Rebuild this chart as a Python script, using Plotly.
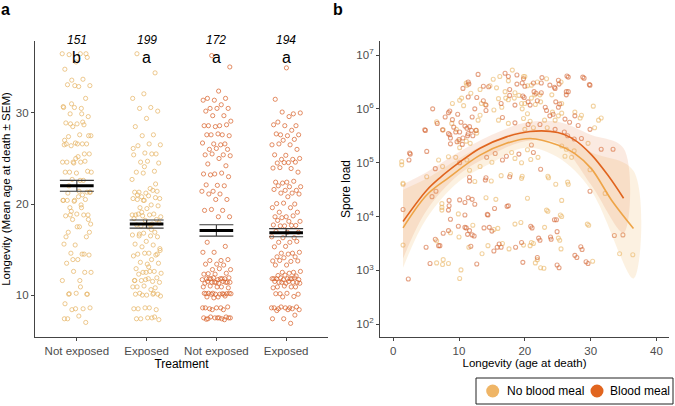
import plotly.graph_objects as go
import numpy as np

FONT = "Liberation Sans, Arial, sans-serif"
LIGHT = "#EFB566"
DARK = "#E1651F"
PT_LIGHT = "rgba(230,180,100,0.8)"
PT_DARK = "rgba(216,98,42,0.8)"

# ---------------- Panel a data ----------------
treat_labels = ["Not exposed", "Exposed", "Not exposed", "Exposed"]
group_n = ["151", "199", "172", "194"]
group_letters = ["b", "a", "a", "a"]
group_mean = [22.0, 17.8, 17.1, 16.85]
group_sem = [0.6, 0.45, 0.62, 0.45]

g1_longevity = [36.5, 36.5, 36.4, 36.1, 35.6, 34.8, 33.7, 33.6, 33.0, 32.9, 33.1, 31.6, 30.6, 30.7, 30.5,
                29.9, 29.6, 28.8, 28.9, 28.7, 28.5, 27.5, 27.6, 27.4, 26.6, 26.7, 26.5, 26.6, 26.4, 25.5,
                25.2, 24.6, 24.7, 24.5, 24.6, 24.6, 23.5, 23.6, 23.4, 23.5, 22.6, 22.7, 21.3, 21.4, 21.2,
                36.5, 33.0, 30.6, 29.9, 28.8, 27.5, 26.6, 26.6, 25.5, 24.6, 23.5, 22.6, 22.0, 21.3, 25.0,
                27.0, 29.0, 31.0, 21.3, 20.8, 20.4, 20.5, 20.3, 20.4, 19.9, 19.6, 18.8, 18.9, 18.7, 18.8,
                18.3, 17.8, 17.5, 16.9, 16.4, 15.5, 15.6, 14.5, 14.6, 14.4, 13.9, 13.5, 12.5, 12.6, 11.6,
                10.9, 10.15, 10.1, 10.2, 9.05, 8.5, 8.4, 8.6, 7.7, 7.4, 7.0, 20.4, 20.4, 19.6, 18.8, 18.3,
                17.5, 16.4, 14.5, 13.9, 12.5, 11.6, 10.1, 10.1, 8.5, 7.4, 21.0, 19.2, 16.9]
g2_longevity = [36.5, 34.4, 32.1, 31.6, 30.6, 30.5, 30.2, 29.4, 28.5, 27.6, 27.5, 26.5, 26.6, 26.4, 25.5,
                25.6, 25.4, 25.5, 24.6, 24.5, 24.7, 23.5, 23.6, 23.4, 22.7, 21.7, 21.3, 21.4, 21.2, 21.3,
                21.5, 20.8, 20.6, 20.9, 20.5, 20.7, 20.4, 20.6, 19.9, 19.6, 19.8, 19.5, 18.8, 18.9, 18.7,
                18.6, 18.8, 18.9, 18.3, 18.2, 18.4, 17.8, 17.6, 17.9, 17.5, 17.7, 16.9, 16.8, 16.6, 16.5,
                16.7, 16.4, 15.9, 15.6, 15.5, 15.3, 14.9, 14.6, 14.5, 14.4, 14.6, 14.3, 13.9, 13.6, 13.5,
                13.4, 12.9, 12.6, 12.5, 12.4, 12.6, 12.3, 11.9, 11.7, 11.6, 11.5, 11.6, 11.4, 11.8, 10.9,
                10.8, 11.0, 10.9, 10.6, 10.2, 10.1, 10.0, 10.1, 10.2, 10.0, 9.9, 8.6, 8.5, 8.4, 8.6,
                8.5, 7.5, 7.4, 7.3, 7.5, 7.4, 7.6, 20.4, 18.8, 17.7, 16.5, 14.5, 12.5, 11.6, 10.1,
                19.1, 15.1, 13.1, 21.0, 22.2, 24.1, 26.1, 17.2]
g3_longevity = [36.3, 35.05, 32.4, 31.6, 31.6, 31.4, 31.4, 30.9, 30.5, 30.5, 30.5, 30.2, 29.7, 29.7, 29.1,
                28.6, 28.6, 28.7, 28.5, 28.6, 27.6, 27.6, 27.5, 27.7, 27.6, 26.6, 26.6, 26.7, 26.5, 26.0,
                26.0, 26.1, 25.4, 25.4, 25.5, 25.3, 25.0, 24.4, 24.2, 23.3, 23.3, 23.4, 23.2, 23.0, 22.05,
                22.1, 22.0, 21.4, 21.4, 21.1, 21.1, 20.5, 20.5, 19.3, 19.3, 19.4, 18.6, 18.6, 15.8, 15.35,
                14.7, 14.7, 13.8, 13.8, 13.9, 13.4, 13.4, 13.3, 12.8, 12.8, 12.9, 12.35, 12.4, 12.3, 12.3,
                11.8, 11.8, 11.9, 11.7, 11.8, 11.8, 11.9, 11.7, 11.8, 11.8, 11.4, 11.4, 11.3, 11.5, 11.4,
                11.4, 11.3, 11.5, 11.4, 11.4, 10.9, 10.9, 11.0, 10.8, 10.9, 10.15, 10.1, 10.2, 10.15, 10.1,
                10.2, 10.15, 10.1, 10.2, 10.15, 10.1, 10.2, 9.8, 9.8, 9.9, 9.7, 8.6, 8.6, 8.5, 8.7,
                8.6, 8.6, 8.4, 8.4, 7.5, 7.5, 7.4, 7.6, 7.5, 7.5, 7.4, 7.6, 7.5, 7.5, 7.35, 7.3]
g4_longevity = [34.95, 31.5, 29.9, 30.1, 30.0, 29.6, 29.0, 28.6, 28.6, 28.7, 28.1, 27.6, 27.6, 27.5, 27.7,
                27.1, 27.0, 26.5, 26.5, 26.6, 26.0, 25.35, 25.4, 24.9, 24.9, 25.0, 24.55, 24.5, 24.6, 24.55,
                23.95, 23.9, 24.0, 23.5, 22.4, 22.4, 22.5, 22.3, 21.9, 21.9, 22.0, 21.5, 21.5, 21.6, 21.2,
                21.2, 21.1, 20.8, 20.05, 20.0, 20.1, 19.6, 19.6, 19.1, 19.1, 18.6, 18.6, 18.7, 18.5, 18.1,
                18.1, 18.2, 17.65, 17.6, 17.7, 17.65, 17.6, 16.9, 16.9, 17.0, 16.3, 16.3, 16.4, 15.8, 15.8,
                15.9, 15.35, 15.3, 14.6, 14.6, 14.7, 14.5, 14.2, 14.2, 14.1, 13.75, 13.7, 13.8, 13.75, 13.3,
                13.3, 12.5, 12.5, 12.6, 12.4, 12.15, 12.1, 12.2, 11.8, 11.8, 11.9, 11.7, 11.8, 11.8, 11.9,
                11.7, 11.8, 11.8, 11.4, 11.4, 11.3, 11.5, 11.4, 11.4, 11.3, 11.5, 10.9, 10.9, 11.0, 10.8,
                10.9, 10.15, 10.1, 10.2, 10.15, 9.85, 9.8, 8.6, 8.6, 8.5, 8.7, 8.6, 8.6, 8.5, 8.7,
                8.4, 8.4, 8.3, 7.8, 7.4, 7.4, 6.9]

groups = [g1_longevity, g2_longevity, g3_longevity, g4_longevity]
group_pt_colors = [PT_LIGHT, PT_LIGHT, PT_DARK, PT_DARK]

# ---------------- Panel b data: (age at death, log10 spore load) ----------------
nb_points = [
    (16.2, 6.6), (18.1, 6.72), (19.8, 6.6), (11.2, 6.44), (13.2, 6.36), (15.7, 6.39), (17.5, 6.52), (20.4, 6.43),
    (17.0, 6.32), (18.5, 6.3), (19.1, 6.25), (10.1, 6.16), (11.8, 6.29), (13.4, 6.1), (16.0, 6.19), (17.5, 6.17),
    (19.5, 6.1), (8.9, 5.73), (9.6, 5.62), (12.7, 5.55), (11.1, 5.4), (11.7, 5.36), (10.1, 5.28), (12.9, 5.79),
    (13.2, 5.88), (15.3, 5.98), (16.0, 5.79), (17.5, 5.73), (19.8, 5.82), (20.4, 5.91), (1.3, 5.02), (7.6, 5.61),
    (8.4, 5.11), (6.9, 5.05), (7.5, 4.93), (9.5, 5.1), (11.2, 5.05), (11.6, 4.86), (13.2, 4.93), (15.0, 5.01),
    (18.0, 5.19), (18.5, 5.08), (19.5, 5.0), (16.4, 4.76), (17.8, 4.78), (19.6, 4.75),
    (20.0, 6.6), (21.0, 6.44), (21.9, 6.5), (23.3, 6.56), (25.5, 6.5), (21.5, 6.26), (22.4, 6.13), (24.1, 6.26),
    (25.6, 6.1), (20.0, 6.1), (25.1, 5.87), (25.6, 5.92), (28.4, 5.83), (30.4, 6.05), (31.2, 5.79), (23.0, 5.79),
    (24.6, 5.79), (20.8, 5.77), (20.0, 5.62), (21.3, 5.65), (23.4, 5.65), (30.6, 5.65), (29.6, 5.36), (20.4, 5.24),
    (22.0, 5.1), (20.9, 5.06), (25.6, 5.31), (26.3, 5.25), (27.5, 5.22), (27.1, 5.1), (26.1, 5.12), (23.5, 4.75),
    (29.9, 4.87), (15.2, 6.55), (11.1, 6.48), (14.7, 6.43), (10.4, 6.2), (31.6, 5.83), (6.6, 5.76), (1.3, 4.96),
    (1.5, 4.6), (17.1, 6.2), (18.4, 6.2), (21.0, 6.2), (22.3, 6.26), (14.0, 6.08), (16.5, 6.03), (19.6, 6.0),
    (21.6, 6.08), (24.2, 5.94), (27.6, 5.94), (28.6, 5.88), (10.7, 6.06), (10.0, 5.4), (12.6, 5.6), (9.0, 6.1),
    (1.5, 4.62), (5.1, 4.74), (7.4, 4.24), (7.4, 4.12), (12.4, 4.65), (14.9, 4.66), (14.1, 4.35), (15.6, 4.32),
    (19.5, 4.71), (20.4, 4.34), (9.9, 4.05), (23.6, 4.72), (24.7, 4.6), (26.5, 4.64), (26.6, 4.6), (25.6, 4.3),
    (32.2, 4.43), (23.3, 4.12), (25.4, 4.03),
    (1.5, 3.47), (6.6, 3.14), (6.6, 3.55), (7.4, 4.17), (7.6, 3.2), (7.5, 3.11), (8.4, 3.13), (8.7, 3.7),
    (10.0, 3.62), (10.3, 3.01), (10.1, 2.85), (11.5, 3.43), (12.1, 3.84), (13.5, 3.31), (15.3, 3.76), (16.6, 3.5),
    (17.6, 3.4), (18.5, 3.86), (19.8, 3.47), (21.3, 3.5), (21.9, 3.2), (22.4, 3.05), (22.9, 3.04), (23.0, 3.8),
    (23.5, 4.1), (25.3, 3.56), (25.5, 3.4), (25.6, 4.0), (29.7, 3.84), (30.3, 3.17), (34.4, 3.31), (36.4, 3.29),
    (14.4, 3.46), (15.9, 3.78), (20.8, 3.46), (19.4, 3.89), (25.1, 3.6), (21.0, 3.52), (21.6, 3.14), (29.5, 3.86),
]
b_points = [
    (12.9, 6.64), (17.0, 6.66), (17.5, 6.6), (18.8, 6.63), (10.6, 6.38), (11.5, 6.46), (14.5, 6.41), (17.7, 6.36),
    (18.8, 6.46), (19.6, 6.48), (19.9, 6.21), (11.4, 6.22), (12.7, 6.21), (13.7, 6.15), (14.1, 6.07), (16.4, 6.1),
    (18.5, 6.07), (20.5, 6.13), (8.4, 5.93), (6.7, 5.73), (7.5, 5.61), (8.4, 5.54), (8.6, 5.52), (10.1, 5.57),
    (10.9, 5.68), (11.2, 5.64), (11.6, 5.67), (11.9, 5.6), (11.4, 5.54), (12.1, 5.5), (10.6, 5.46), (10.0, 5.43),
    (10.5, 5.34), (9.7, 5.39), (14.1, 5.97), (16.6, 5.84), (18.5, 5.74), (4.8, 5.61), (2.5, 5.18), (5.1, 5.21),
    (2.4, 5.05), (6.4, 4.89), (10.1, 5.0), (14.2, 5.1), (15.5, 5.17), (16.6, 5.05), (17.2, 5.12), (19.1, 5.16),
    (11.6, 4.73), (14.1, 4.72),
    (21.3, 6.48), (22.5, 6.48), (23.8, 6.44), (24.6, 6.38), (25.2, 6.46), (26.6, 6.59), (29.0, 6.57), (29.9, 6.44),
    (20.0, 6.42), (21.4, 6.32), (22.5, 6.3), (21.9, 6.15), (24.7, 6.13), (26.3, 6.32), (26.3, 6.26), (25.3, 6.09),
    (20.8, 6.07), (23.3, 5.97), (24.3, 5.9), (23.8, 5.87), (26.1, 5.81), (26.8, 5.75), (27.6, 5.87), (28.1, 5.69),
    (20.5, 5.71), (22.3, 5.71), (24.6, 5.62), (26.0, 5.57), (26.5, 5.5), (27.5, 5.44), (28.6, 5.45), (29.9, 5.62),
    (31.6, 5.25), (21.0, 5.33), (21.3, 5.19), (22.4, 4.88),
    (19.8, 6.56), (22.6, 6.58), (25.1, 6.53), (26.4, 6.61), (28.8, 6.59), (29.8, 6.45), (11.4, 6.5), (13.7, 6.42),
    (17.7, 6.25), (19.7, 6.24), (21.7, 6.29), (24.5, 6.4), (26.6, 6.32), (8.6, 5.96), (12.4, 6.0), (23.1, 6.03),
    (25.1, 6.03), (4.9, 5.6), (2.6, 5.16), (8.7, 5.35), (9.2, 5.66), (9.5, 5.57), (11.3, 5.5), (12.6, 5.6),
    (8.7, 5.46), (9.0, 5.8), (10.3, 5.75), (12.0, 5.85), (9.8, 5.9), (33.4, 5.25), (6.0, 6.0), (7.9, 5.85),
    (6.5, 4.47), (5.9, 4.37), (8.5, 4.3), (8.5, 4.2), (8.4, 4.12), (10.1, 4.31), (10.9, 4.26), (11.4, 4.35),
    (12.0, 4.32), (12.4, 4.23), (11.6, 4.66), (14.0, 4.68), (15.4, 4.15), (14.3, 4.04), (17.3, 4.19), (17.7, 4.74),
    (10.9, 4.03), (29.9, 4.47), (24.5, 3.94), (20.9, 3.82),
    (1.5, 4.13), (2.3, 2.84), (5.0, 3.43), (5.6, 3.13), (6.4, 3.58), (6.9, 3.46), (7.6, 3.69), (8.4, 3.74),
    (8.7, 3.95), (9.9, 3.82), (11.1, 3.79), (11.3, 3.67), (11.8, 3.45), (12.3, 3.64), (12.7, 3.12), (13.8, 3.79),
    (14.4, 4.03), (15.0, 3.73), (15.3, 3.36), (15.8, 3.43), (16.1, 3.49), (17.5, 4.2), (18.6, 3.43), (19.7, 3.15),
    (21.1, 3.79), (22.3, 3.56), (24.0, 3.58), (24.8, 3.94), (24.9, 3.72), (25.2, 3.05), (27.9, 3.24), (28.7, 3.39),
    (29.6, 3.13), (33.6, 3.65), (34.9, 3.66), (10.9, 3.8), (11.6, 3.74), (12.0, 3.66), (7.1, 3.46), (14.6, 3.8),
    (16.4, 3.43), (19.5, 3.52), (23.9, 3.62), (22.1, 3.6), (28.5, 3.44), (27.6, 3.28), (21.9, 3.24), (24.9, 3.1),
    (29.3, 3.16),
]

# fitted curves (log10 spore load)
fit_b_age = [1.5, 5.1, 7.1, 10.0, 13.2, 17.2, 20.8, 25.0, 27.6, 30.1, 32.6, 35.0]
fit_b_log = [3.91, 4.49, 4.72, 5.0, 5.27, 5.48, 5.58, 5.56, 5.42, 5.15, 4.77, 4.34]
fit_nb_age = [1.5, 5.1, 8.4, 13.2, 17.2, 20.8, 25.0, 27.6, 30.1, 33.2, 36.5]
fit_nb_log = [3.79, 4.4, 4.72, 5.14, 5.36, 5.45, 5.33, 5.17, 4.89, 4.3, 3.78]
band_b_age = [1.5, 5, 10, 15, 20, 25, 30, 35]
band_b_hi = [4.6, 4.82, 5.2, 5.52, 5.74, 5.76, 5.52, 5.27]
band_b_lo = [3.22, 4.1, 4.78, 5.15, 5.4, 5.36, 4.6, 3.7]
band_nb_age = [1.5, 5, 10, 15, 20, 25, 30, 36.5]
band_nb_hi = [4.5, 4.7, 5.08, 5.4, 5.6, 5.55, 5.2, 4.85]
band_nb_lo = [3.05, 3.95, 4.65, 5.0, 5.28, 5.1, 4.5, 2.85]

fig = go.Figure()

# ---------- panel a ----------
golden = 0.6180339887
for gi, vals in enumerate(groups):
    k = np.arange(len(vals))
    offs = ((k * golden + 0.17 * gi) % 1.0 - 0.5) * 0.42
    fig.add_trace(go.Scatter(
        x=gi + offs, y=vals, mode="markers", xaxis="x", yaxis="y",
        marker=dict(symbol="circle-open", size=4.2, color=group_pt_colors[gi], line=dict(width=0.9)),
        showlegend=False, hoverinfo="y"))

fig.add_trace(go.Scatter(
    x=list(range(4)), y=group_mean, mode="markers", xaxis="x", yaxis="y",
    marker=dict(symbol="line-ew", size=24, color="black", line=dict(width=3, color="black")),
    error_y=dict(type="data", array=group_sem, color="#3a3a3a", thickness=1.1, width=17),
    showlegend=False))

# ---------- panel b ----------
nb_age = [p[0] for p in nb_points]
nb_spore = [10 ** p[1] for p in nb_points]
b_age = [p[0] for p in b_points]
b_spore = [10 ** p[1] for p in b_points]

fig.add_trace(go.Scatter(x=nb_age, y=nb_spore, mode="markers", xaxis="x2", yaxis="y2",
                         marker=dict(symbol="circle-open", size=4, color="rgba(234,182,102,0.62)", line=dict(width=1.1)),
                         showlegend=False))
fig.add_trace(go.Scatter(x=b_age, y=b_spore, mode="markers", xaxis="x2", yaxis="y2",
                         marker=dict(symbol="circle-open", size=4, color="rgba(212,100,50,0.6)", line=dict(width=1.1)),
                         showlegend=False))


def band(ages, hi, lo, color):
    fig.add_trace(go.Scatter(
        x=list(ages) + list(ages)[::-1],
        y=[10 ** v for v in hi] + [10 ** v for v in lo][::-1],
        mode="lines", fill="toself", fillcolor=color, line=dict(width=0, shape="spline"),
        xaxis="x2", yaxis="y2", showlegend=False, hoverinfo="skip"))


band(band_nb_age, band_nb_hi, band_nb_lo, "rgba(240,190,120,0.22)")
band(band_b_age, band_b_hi, band_b_lo, "rgba(230,125,70,0.16)")

fig.add_trace(go.Scatter(x=fit_nb_age, y=[10 ** v for v in fit_nb_log], mode="lines", xaxis="x2", yaxis="y2",
                         line=dict(color="#EEA447", width=1.6, shape="spline"), showlegend=False))
fig.add_trace(go.Scatter(x=fit_b_age, y=[10 ** v for v in fit_b_log], mode="lines", xaxis="x2", yaxis="y2",
                         line=dict(color="#E0641E", width=1.6, shape="spline"), showlegend=False))

W, H = 675, 406
axis_common = dict(showline=True, linecolor="#444", linewidth=1.1, ticks="outside", ticklen=3,
                   tickcolor="#444", tickwidth=1, showgrid=False, zeroline=False,
                   tickfont=dict(family=FONT, size=11.5, color="#4d4d4d"))

ydom = [(H - 337) / H, (H - 41) / H]
fig.update_layout(
    width=W, height=H, margin=dict(l=0, r=0, t=0, b=0),
    paper_bgcolor="white", plot_bgcolor="white",
    font=dict(family=FONT, color="black"),
    xaxis=dict(domain=[35 / W, 328 / W], range=[-0.6, 3.6], tickvals=[0, 1, 2, 3], ticktext=treat_labels,
               title=dict(text="Treatment", font=dict(size=12), standoff=1), anchor="y", **axis_common),
    yaxis=dict(domain=ydom, range=[5.4, 37.9], tickvals=[10, 20, 30],
               title=dict(text="Longevity (Mean age at death ± SEM)", font=dict(size=11.5), standoff=4),
               anchor="x", **axis_common),
    xaxis2=dict(domain=[380 / W, 669 / W], range=[-2, 41.9], tickvals=[0, 10, 20, 30, 40],
                title=dict(text="Longevity (age at death)", font=dict(size=11.5), standoff=1), anchor="y2",
                **axis_common),
    yaxis2=dict(domain=ydom, type="log", range=[1.764, 7.26],
                tickvals=[1e2, 1e3, 1e4, 1e5, 1e6, 1e7],
                ticktext=["10<sup>2</sup>", "10<sup>3</sup>", "10<sup>4</sup>", "10<sup>5</sup>",
                          "10<sup>6</sup>", "10<sup>7</sup>"],
                title=dict(text="Spore load", font=dict(size=12), standoff=3), anchor="x2", **axis_common),
    showlegend=False,
)

ann = []
ann.append(dict(text="<b>a</b>", x=5 / W, y=1 - 9 / H, xref="paper", yref="paper", showarrow=False,
                xanchor="center", yanchor="middle", font=dict(size=16, family=FONT)))
ann.append(dict(text="<b>b</b>", x=338 / W, y=1 - 9 / H, xref="paper", yref="paper", showarrow=False,
                xanchor="center", yanchor="middle", font=dict(size=16, family=FONT)))
for gi in range(4):
    ann.append(dict(text="<i>" + group_n[gi] + "</i>", x=gi, y=1 - 40 / H, xref="x", yref="paper",
                    showarrow=False, font=dict(size=12, family=FONT), yanchor="middle"))
    ann.append(dict(text=group_letters[gi], x=gi, y=1 - 57 / H, xref="x", yref="paper", showarrow=False,
                    font=dict(size=16, family=FONT), yanchor="middle"))

# legend (drawn manually)
shapes = [dict(type="rect", xref="paper", yref="paper", x0=476 / W, x1=673 / W, y0=(H - 404) / H,
               y1=(H - 378) / H, line=dict(color="#222", width=1), fillcolor="white")]
leg_y = (H - 391) / H
for cx, col in [(492.7, LIGHT), (597, DARK)]:
    shapes.append(dict(type="circle", xref="paper", yref="paper", xsizemode="pixel", ysizemode="pixel",
                       xanchor=cx / W, yanchor=leg_y, x0=-6.5, x1=6.5, y0=-6.5, y1=6.5,
                       fillcolor=col, line=dict(width=0)))
ann.append(dict(text="No blood meal", x=505 / W, y=leg_y, xref="paper", yref="paper", showarrow=False,
                xanchor="left", yanchor="middle", font=dict(size=12, family=FONT)))
ann.append(dict(text="Blood meal", x=608 / W, y=leg_y, xref="paper", yref="paper", showarrow=False,
                xanchor="left", yanchor="middle", font=dict(size=12, family=FONT)))

fig.update_layout(annotations=ann, shapes=shapes)
fig.write_html("out.html")
